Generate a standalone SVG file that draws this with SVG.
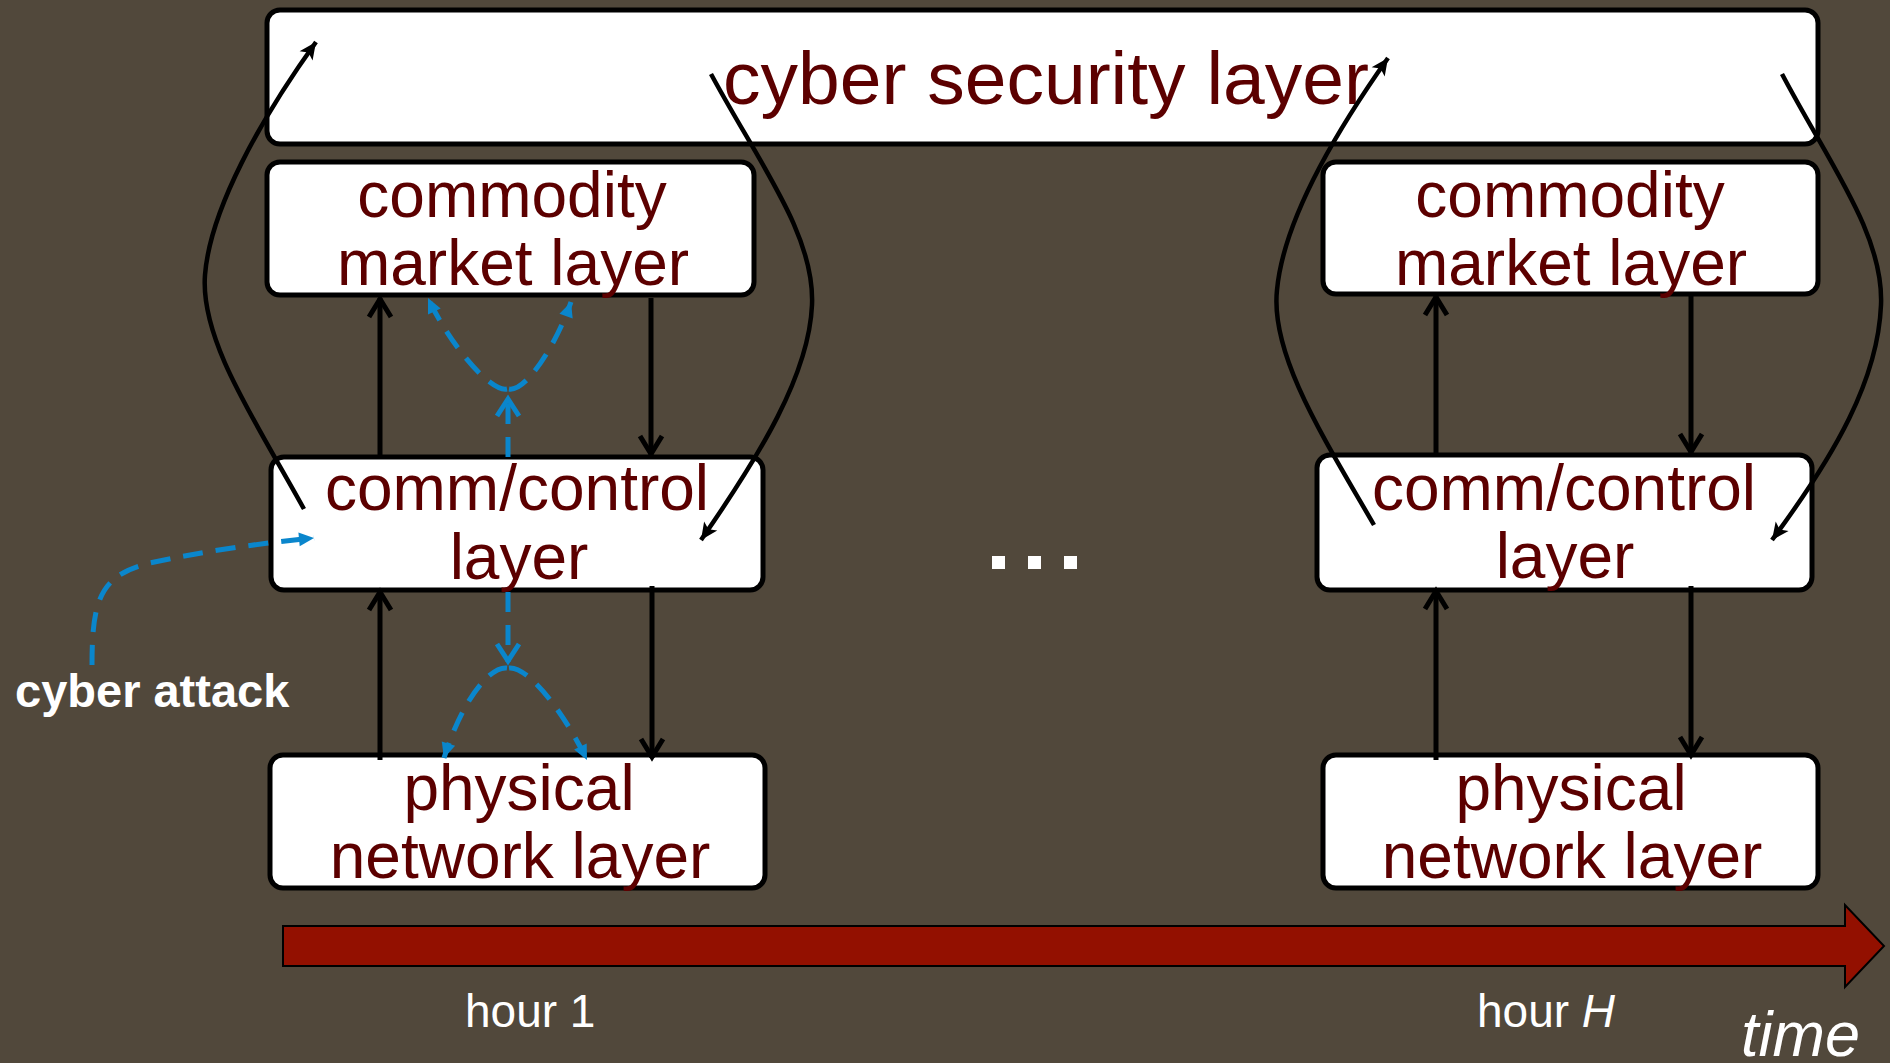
<svg xmlns="http://www.w3.org/2000/svg" width="1890" height="1063" viewBox="0 0 1890 1063">
  <style>
    .box { fill: #ffffff; stroke: #000000; stroke-width: 5; }
    .lbl { font-family: "Liberation Sans", Arial, sans-serif; font-size: 64px; fill: #5c0000; text-anchor: middle; }
    .big { font-size: 75px; }
    .white { font-family: "Liberation Sans", Arial, sans-serif; fill: #ffffff; }
    .solid { fill: none; stroke: #000000; stroke-width: 5; }
    .curve { fill: none; stroke: #000000; stroke-width: 4.5; }
    .dash { fill: none; stroke: #0a86cc; stroke-width: 5; stroke-dasharray: 20 13; }
  </style>
  <defs>
    <marker id="chev" markerUnits="userSpaceOnUse" viewBox="-24 -14 28 28" refX="0" refY="0" markerWidth="28" markerHeight="28" orient="auto">
      <path d="M-19,-11 L-1,0 L-19,11" fill="none" stroke="#000000" stroke-width="5"/>
    </marker>
    <marker id="chevBlue" markerUnits="userSpaceOnUse" viewBox="-24 -14 28 28" refX="0" refY="0" markerWidth="28" markerHeight="28" orient="auto">
      <path d="M-18,-11 L-1,0 L-18,11" fill="none" stroke="#0a86cc" stroke-width="5"/>
    </marker>
    <marker id="head" markerUnits="userSpaceOnUse" viewBox="-20 -10 22 20" refX="0" refY="0" markerWidth="22" markerHeight="20" orient="auto">
      <path d="M0,0 L-17,-8 L-13,0 L-17,8 Z" fill="#000000"/>
    </marker>
    <marker id="tri" markerUnits="userSpaceOnUse" viewBox="-18 -10 20 20" refX="0" refY="0" markerWidth="20" markerHeight="20" orient="auto">
      <path d="M0,0 L-15,-7 L-15,7 Z" fill="#0a86cc"/>
    </marker>
  </defs>

  <rect x="0" y="0" width="1890" height="1063" fill="#51483b"/>

  <!-- layer boxes -->
  <g id="cyber-security">
    <rect class="box" x="267" y="10" width="1551" height="134" rx="13"/>
    <text class="lbl big" x="1046" y="104">cyber security layer</text>
  </g>
  <g id="commodity-1">
    <rect class="box" x="267" y="162" width="487" height="133" rx="13"/>
    <text class="lbl" x="512" y="217">commodity</text>
    <text class="lbl" x="513" y="285">market layer</text>
  </g>
  <g id="comm-1">
    <rect class="box" x="271" y="457" width="492" height="133" rx="13"/>
    <text class="lbl" x="517" y="510">comm/control</text>
    <text class="lbl" x="519" y="579">layer</text>
  </g>
  <g id="physical-1">
    <rect class="box" x="270" y="755" width="495" height="133" rx="13"/>
    <text class="lbl" x="519" y="810">physical</text>
    <text class="lbl" x="520" y="878">network layer</text>
  </g>
  <g id="commodity-H">
    <rect class="box" x="1323" y="162" width="495" height="132" rx="13"/>
    <text class="lbl" x="1570" y="217">commodity</text>
    <text class="lbl" x="1571" y="285">market layer</text>
  </g>
  <g id="comm-H">
    <rect class="box" x="1317" y="455" width="495" height="135" rx="13"/>
    <text class="lbl" x="1564" y="510">comm/control</text>
    <text class="lbl" x="1565" y="578">layer</text>
  </g>
  <g id="physical-H">
    <rect class="box" x="1323" y="755" width="495" height="133" rx="13"/>
    <text class="lbl" x="1571" y="810">physical</text>
    <text class="lbl" x="1572" y="878">network layer</text>
  </g>

  <!-- ellipsis between the hours -->
  <g id="ellipsis" fill="#ffffff">
    <rect x="992" y="556" width="13" height="13"/>
    <rect x="1028" y="556" width="13" height="13"/>
    <rect x="1064" y="556" width="13" height="13"/>
  </g>

  <!-- time axis -->
  <g id="time-axis">
    <polygon points="283,926 1845,926 1845,905 1884,946 1845,987 1845,966 283,966" fill="#931000" stroke="#000000" stroke-width="2"/>
    <text class="white" x="465" y="1027" font-size="46">hour 1</text>
    <text class="white" x="1477" y="1027" font-size="46">hour <tspan font-style="italic">H</tspan></text>
    <text class="white" x="1741" y="1056" font-size="63" font-style="italic">time</text>
  </g>

  <g id="cyber-attack-label">
    <text class="white" x="15" y="707" font-size="47" font-weight="bold">cyber attack</text>
  </g>

  <!-- connectors -->
  <g id="connectors">
    <!-- hour 1 vertical links -->
    <path class="solid" d="M380,457 L380,298" marker-end="url(#chev)"/>
    <path class="solid" d="M651,298 L651,455" marker-end="url(#chev)"/>
    <path class="solid" d="M380,760 L380,591" marker-end="url(#chev)"/>
    <path class="solid" d="M652,586 L652,758" marker-end="url(#chev)"/>
    <!-- hour H vertical links -->
    <path class="solid" d="M1436,455 L1436,296" marker-end="url(#chev)"/>
    <path class="solid" d="M1691,296 L1691,453" marker-end="url(#chev)"/>
    <path class="solid" d="M1436,760 L1436,590" marker-end="url(#chev)"/>
    <path class="solid" d="M1691,586 L1691,756" marker-end="url(#chev)"/>

    <!-- links to and from the cyber security layer -->
    <path class="curve" d="M304,509 C255,420 200,340 205,275 C210,210 260,120 316,42" marker-end="url(#head)"/>
    <path class="curve" d="M711,74 C760,165 815,235 812,305 C809,375 760,455 701,540" marker-end="url(#head)"/>
    <path class="curve" d="M1374,525 C1325,440 1270,355 1277,290 C1283,225 1330,140 1388,58" marker-end="url(#head)"/>
    <path class="curve" d="M1782,74 C1830,165 1884,235 1881,305 C1878,380 1835,455 1772,540" marker-end="url(#head)"/>

    <!-- attack propagation -->
    <path class="dash" d="M92,665 C92,600 100,575 150,563 C200,552 260,543 314,538" marker-end="url(#tri)"/>
    <path class="dash" d="M508,457 L508,398" marker-end="url(#chevBlue)"/>
    <path class="dash" d="M507,389 C490,392 450,345 428,298" marker-end="url(#tri)"/>
    <path class="dash" d="M509,389 C526,392 556,345 571,302" marker-end="url(#tri)"/>
    <path class="dash" d="M508,592 L508,662" marker-end="url(#chevBlue)"/>
    <path class="dash" d="M507,668 C490,666 462,700 444,758" marker-end="url(#tri)"/>
    <path class="dash" d="M509,668 C526,666 560,705 587,760" marker-end="url(#tri)"/>
  </g>
</svg>
